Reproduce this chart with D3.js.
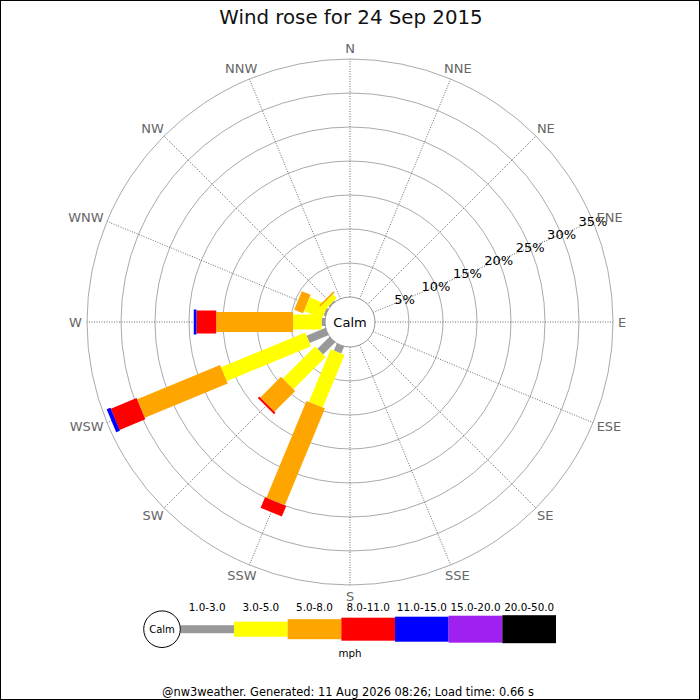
<!doctype html>
<html lang="en">
<head>
<meta charset="utf-8">
<title>Wind rose for 24 Sep 2015</title>
<style>
  body { margin: 0; background: #fff; }
  svg { display: block; font-family: "DejaVu Sans", sans-serif; }
</style>
</head>
<body>
<script src="https://cdn.jsdelivr.net/npm/d3@7"></script>
<script>

// directions, clockwise from north
var directions = ["N","NNE","NE","ENE","E","ESE","SE","SSE","S","SSW","SW","WSW","W","WNW","NW","NNW"];

// speed bins (mph) and their colours
var speedBins = ["1.0-3.0","3.0-5.0","5.0-8.0","8.0-11.0","11.0-15.0","15.0-20.0","20.0-50.0"];
var binColours = ["#999999","#ffff00","#ffa500","#ff0000","#0000ff","#a020f0","#000000"];

// % of observations per direction, one array per speed bin
var pct_1_3   = [0,0,0,0,0,0,0,0,0, 1.1, 2.5, 3.0, 0.5, 0.3, 0.2,  0];
var pct_3_5   = [0,0,0,0,0,0,0,0,0, 8.4, 6.7,13.4, 4.2, 2.9, 0.8,  0];
var pct_5_8   = [0,0,0,0,0,0,0,0,0,15.4, 4.3,13.2,11.3, 1.4, 0.25, 0];
var pct_8_11  = [0,0,0,0,0,0,0,0,0, 1.7, 0.3, 4.1, 2.9, 0,   0,    0];
var pct_11_15 = [0,0,0,0,0,0,0,0,0, 0,   0,   0.6, 0.4, 0,   0,    0];
var pct_15_20 = [0,0,0,0,0,0,0,0,0, 0,   0,   0,   0,   0,   0,    0];
var pct_20_50 = [0,0,0,0,0,0,0,0,0, 0,   0,   0,   0,   0,   0,    0];

var ringTicks = [5,10,15,20,25,30,35];

var title = "Wind rose for 24 Sep 2015";
var footer = "@nw3weather. Generated: 11 Aug 2026 08:26; Load time: 0.66 s";

//Width and height
var w = 700, h = 700;
var cx = 350, cy = 322;
var calmR = 25, outerR = 263;
var barWidths = [8, 15, 20, 23, 25, 27, 28];

var bins = [pct_1_3, pct_3_5, pct_5_8, pct_8_11, pct_11_15, pct_15_20, pct_20_50];

var svg = d3.select("body").append("svg")
    .attr("width", w)
    .attr("height", h);

svg.append("rect")
    .attr("x", 0.5).attr("y", 0.5)
    .attr("width", w - 1).attr("height", h - 1)
    .attr("fill", "#fff")
    .attr("stroke", "#000");

var r = d3.scaleLinear().domain([0, 35]).range([calmR, outerR]);
var angle = d3.scaleBand().domain(directions).range([0, 360]);

var rose = svg.append("g").attr("transform", "translate(" + cx + "," + cy + ")");

// rings
rose.selectAll("circle.ring")
    .data(ringTicks)
    .enter().append("circle")
    .attr("class", "ring")
    .attr("r", function(d) { return r(d); })
    .attr("fill", "none")
    .attr("stroke", "#aaa")
    .attr("stroke-width", 1);

// spokes
function pt(deg, rad) {
    var a = deg * Math.PI / 180;
    return [rad * Math.sin(a), -rad * Math.cos(a)];
}

rose.selectAll("line.spoke")
    .data(directions)
    .enter().append("line")
    .attr("class", "spoke")
    .attr("x1", function(d) { return pt(angle(d), r(0))[0]; })
    .attr("y1", function(d) { return pt(angle(d), r(0))[1]; })
    .attr("x2", function(d) { return pt(angle(d), r(35))[0]; })
    .attr("y2", function(d) { return pt(angle(d), r(35))[1]; })
    .attr("stroke", "#444")
    .attr("stroke-width", 0.8)
    .attr("stroke-dasharray", "1,1.5");

// bars: stack the bins outward for each direction
var segs = [];
directions.forEach(function(dir, i) {
    var cum = 0;
    bins.forEach(function(arr, b) {
        var v = arr[i];
        if (v > 0) {
            segs.push({dir: dir, bin: b, start: cum, end: cum + v});
        }
        cum += v;
    });
});

rose.selectAll("rect.seg")
    .data(segs)
    .enter().append("rect")
    .attr("class", "seg")
    .attr("x", function(d) { return -barWidths[d.bin] / 2; })
    .attr("width", function(d) { return barWidths[d.bin]; })
    .attr("y", function(d) { return -r(d.end); })
    .attr("height", function(d) { return r(d.end) - (d.start === 0 ? 0 : r(d.start)); })
    .attr("fill", function(d) { return binColours[d.bin]; })
    .attr("transform", function(d) { return "rotate(" + angle(d.dir) + ")"; });

// calm circle
rose.append("circle")
    .attr("r", calmR)
    .attr("fill", "#fff")
    .attr("stroke", "#999");
rose.append("text")
    .attr("text-anchor", "middle")
    .attr("dy", "0.35em")
    .attr("font-size", 13)
    .text("Calm");

// ring labels along ENE
rose.selectAll("text.tick")
    .data(ringTicks)
    .enter().append("text")
    .attr("class", "tick")
    .attr("x", function(d) { return pt(angle("ENE"), r(d))[0]; })
    .attr("y", function(d) { return pt(angle("ENE"), r(d))[1]; })
    .attr("text-anchor", "middle")
    .attr("dy", "0.35em")
    .attr("font-size", 13)
    .attr("fill", "#000")
    .text(function(d) { return d + "%"; });

// direction labels, pushed outward by half their box
var dirLabels = rose.selectAll("text.dir")
    .data(directions)
    .enter().append("text")
    .attr("class", "dir")
    .attr("text-anchor", "middle")
    .attr("dy", "0.35em")
    .attr("font-size", 13)
    .attr("fill", "#666")
    .text(function(d) { return d; });

dirLabels.each(function(d) {
    var bb = this.getBBox();
    var a = angle(d) * Math.PI / 180;
    var ux = Math.sin(a), uy = -Math.cos(a);
    d3.select(this)
      .attr("x", 268 * ux + ux * bb.width / 2)
      .attr("y", 268 * uy + uy * 6);
});

// title
svg.append("text")
    .attr("x", 351).attr("y", 24)
    .attr("text-anchor", "middle")
    .attr("font-size", 19.8)
    .attr("fill", "#111")
    .text(title);

// legend
var lx = d3.scaleBand().domain(speedBins).range([180.3, 556]);
var ly = 629.2;
var legend = svg.append("g");

legend.selectAll("rect")
    .data(speedBins)
    .enter().append("rect")
    .attr("x", function(d) { return lx(d); })
    .attr("width", lx.bandwidth())
    .attr("y", function(d, i) { return ly - barWidths[i] / 2; })
    .attr("height", function(d, i) { return barWidths[i]; })
    .attr("fill", function(d, i) { return binColours[i]; });

legend.selectAll("text.bin")
    .data(speedBins)
    .enter().append("text")
    .attr("class", "bin")
    .attr("x", function(d) { return lx(d) + lx.bandwidth() / 2; })
    .attr("y", 611)
    .attr("text-anchor", "middle")
    .attr("font-size", 10.4)
    .attr("fill", "#000")
    .text(function(d) { return d; });

legend.append("circle")
    .attr("cx", 162).attr("cy", ly).attr("r", 18.3)
    .attr("fill", "#fff").attr("stroke", "#000");
legend.append("text")
    .attr("x", 162).attr("y", ly).attr("dy", "0.35em")
    .attr("text-anchor", "middle")
    .attr("font-size", 10)
    .text("Calm");

legend.append("text")
    .attr("x", 350).attr("y", 657)
    .attr("text-anchor", "middle")
    .attr("font-size", 10.3)
    .text("mph");

svg.append("text")
    .attr("x", 348).attr("y", 696)
    .attr("text-anchor", "middle")
    .attr("font-size", 11.4)
    .attr("fill", "#000")
    .text(footer);

</script>
</body>
</html>
